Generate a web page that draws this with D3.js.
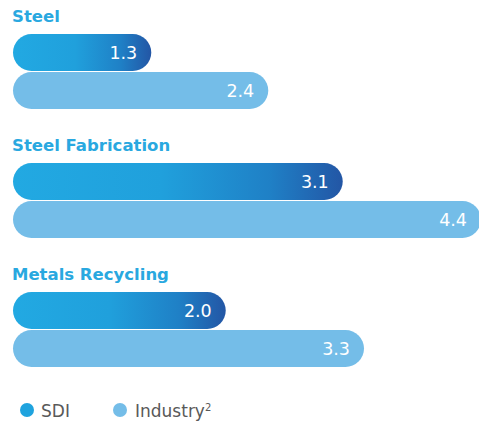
<!DOCTYPE html>
<html>
<head>
<meta charset="utf-8">
<script src="https://cdn.jsdelivr.net/npm/d3@7"></script>
<style>
  html, body { margin: 0; padding: 0; background: #fff; }
  svg { display: block; font-family: "DejaVu Sans", "Open Sans", sans-serif; }
</style>
</head>
<body>
<svg id="chart" width="479" height="423"></svg>
<script>
// Segments and their values (SDI vs. industry average)
const categories = ["Steel", "Steel Fabrication", "Metals Recycling"];
const sdiValues = [1.3, 3.1, 2.0];
const industryValues = [2.4, 4.4, 3.3];
const seriesNames = ["SDI", "Industry"];

const svg = d3.select("#chart");

// Gradient for the SDI bars: bright cyan fading into deep blue at the tip
const defs = svg.append("defs");
const grad = defs.append("linearGradient")
  .attr("id", "sdiGrad")
  .attr("x1", "0%").attr("x2", "100%").attr("y1", "0%").attr("y2", "0%");
[["0%", "#22a9e2"], ["45%", "#20a0dc"], ["78%", "#1f80c6"], ["100%", "#2356a5"]]
  .forEach(([o, c]) => grad.append("stop").attr("offset", o).attr("stop-color", c));

const x = d3.scaleLinear().domain([0, 4.4]).range([13, 481]);

// Each panel: title plus two stacked bars
const panelTop = d3.scaleBand().domain(categories).range([0, 387]).paddingInner(0);
const barH = 37;
const titleColor = "#29a8e0";
const industryColor = "#74bde8";

const panels = svg.selectAll("g.panel")
  .data(categories.map((c, i) => ({ cat: c, sdi: sdiValues[i], ind: industryValues[i] })))
  .join("g")
  .attr("class", "panel")
  .attr("transform", d => `translate(0,${panelTop(d.cat)})`);

panels.append("text")
  .attr("x", 12).attr("y", 22)
  .attr("fill", titleColor)
  .attr("font-weight", 700)
  .attr("font-size", 16.5)
  .text(d => d.cat);

function bar(g, key, y, fill) {
  g.append("rect")
    .attr("x", x(0))
    .attr("y", y)
    .attr("width", d => x(d[key]) - x(0))
    .attr("height", barH)
    .attr("rx", barH / 2).attr("ry", barH / 2)
    .attr("fill", fill);
  g.append("text")
    .attr("x", d => x(d[key]) - 14)
    .attr("y", y + barH / 2 + 6.5)
    .attr("text-anchor", "end")
    .attr("fill", "#fff")
    .attr("font-size", 17.5)
    .text(d => d3.format(".1f")(d[key]));
}
bar(panels, "sdi", 34, "url(#sdiGrad)");
bar(panels, "ind", 72, industryColor);

// Legend
const legend = svg.append("g").attr("transform", "translate(0,410)");
const legendItems = [
  { name: seriesNames[0], color: "#1fa3de", cx: 27, tx: 41 },
  { name: seriesNames[1], color: industryColor, cx: 120, tx: 135, sup: "2" }
];
legendItems.forEach(it => {
  legend.append("circle").attr("cx", it.cx).attr("cy", 0).attr("r", 7).attr("fill", it.color);
  const t = legend.append("text")
    .attr("x", it.tx).attr("y", 7)
    .attr("fill", "#595959")
    .attr("font-size", 17)
    .text(it.name);
  if (it.sup) {
    t.append("tspan").attr("dy", -6).attr("font-size", 10).text(it.sup);
  }
});
</script>
</body>
</html>
